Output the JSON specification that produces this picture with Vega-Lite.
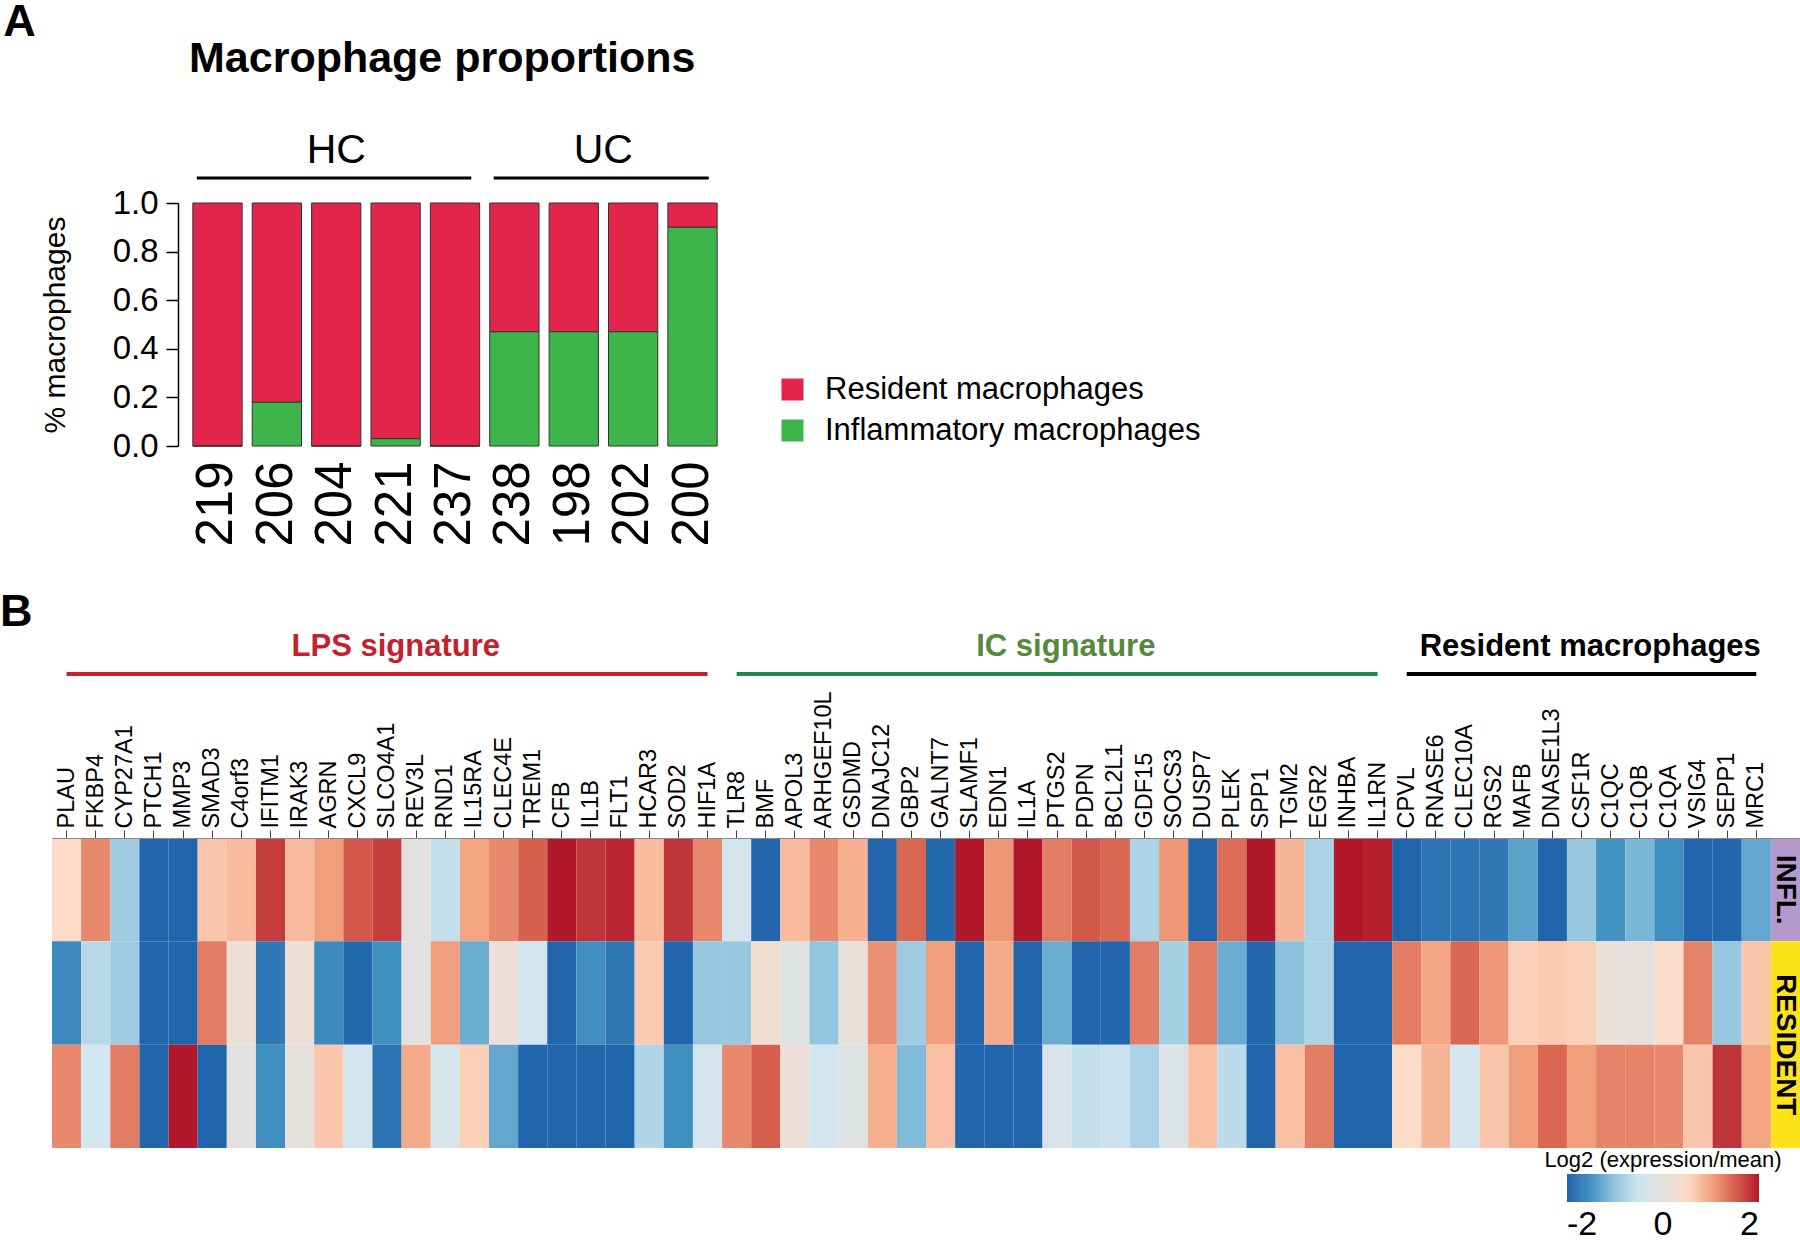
{
  "$schema": "https://vega.github.io/schema/vega-lite/v6.json",
  "padding": 0,
  "background": "white",
  "spacing": 43,
  "config": {
    "font": "Liberation Sans",
    "view": {"stroke": null},
    "axis": {"labelColor": "#000", "titleColor": "#000"},
    "legend": {"labelColor": "#000", "titleColor": "#000"},
    "title": {"color": "#000"}
  },
  "resolve": {"scale": {"x": "independent", "y": "independent", "color": "independent"}},
  "vconcat": [
    {
      "title": {"text": "A", "anchor": "start", "frame": "bounds", "fontSize": 45, "fontWeight": "bold", "dx": -37, "offset": -7},
      "bounds": "flush",
      "spacing": 0,
      "resolve": {"scale": {"x": "independent", "y": "independent", "color": "independent"}},
      "hconcat": [
        {
          "width": 126,
          "height": 1,
          "data": {"values": []},
          "mark": {"type": "point", "opacity": 0},
          "encoding": {}
        },
        {
          "bounds": "flush",
          "spacing": 25,
          "resolve": {"scale": {"x": "shared", "y": "independent", "color": "independent"}},
          "vconcat": [
            {
              "width": 554,
              "height": 15,
              "title": {"text": "Macrophage proportions", "anchor": "start", "frame": "group", "dx": 11, "fontSize": 43, "fontWeight": "bold", "offset": 49},
              "data": {"values": [
                {"grp": "HC", "first": "219", "last": "237", "mid": "204"},
                {"grp": "UC", "first": "238", "last": "200", "mid": "198"}
              ]},
              "layer": [
                {
                  "mark": {"type": "rule", "strokeWidth": 3, "color": "#000"},
                  "encoding": {
                    "x": {"field": "first", "type": "nominal", "bandPosition": 0.08, "scale": {"type": "band", "domain": ["219","206","204","221","237","238","198","202","200"], "paddingInner": 0.17, "paddingOuter": 0.25}, "axis": null},
                    "x2": {"field": "last", "bandPosition": 0.83},
                    "y": {"datum": 0, "type": "quantitative", "scale": {"domain": [0, 1]}, "axis": null}
                  }
                },
                {
                  "transform": [{"filter": "datum.grp === 'HC'"}],
                  "mark": {"type": "text", "fontSize": 41, "baseline": "alphabetic", "align": "center"},
                  "encoding": {
                    "x": {"field": "mid", "type": "nominal", "axis": null},
                    "y": {"datum": 1, "type": "quantitative"},
                    "text": {"field": "grp"}
                  }
                },
                {
                  "transform": [{"filter": "datum.grp === 'UC'"}],
                  "mark": {"type": "text", "fontSize": 41, "baseline": "alphabetic", "align": "center"},
                  "encoding": {
                    "x": {"field": "mid", "type": "nominal", "bandPosition": 1.1, "axis": null},
                    "y": {"datum": 1, "type": "quantitative"},
                    "text": {"field": "grp"}
                  }
                }
              ]
            },
            {
              "width": 554,
              "height": 243,
              "data": {"values": [
                {"sample": "219", "Resident macrophages": 1.0, "Inflammatory macrophages": 0.0},
                {"sample": "206", "Resident macrophages": 0.82, "Inflammatory macrophages": 0.18},
                {"sample": "204", "Resident macrophages": 1.0, "Inflammatory macrophages": 0.0},
                {"sample": "221", "Resident macrophages": 0.97, "Inflammatory macrophages": 0.03},
                {"sample": "237", "Resident macrophages": 1.0, "Inflammatory macrophages": 0.0},
                {"sample": "238", "Resident macrophages": 0.53, "Inflammatory macrophages": 0.47},
                {"sample": "198", "Resident macrophages": 0.53, "Inflammatory macrophages": 0.47},
                {"sample": "202", "Resident macrophages": 0.53, "Inflammatory macrophages": 0.47},
                {"sample": "200", "Resident macrophages": 0.10, "Inflammatory macrophages": 0.90}
              ]},
              "transform": [{"fold": ["Resident macrophages", "Inflammatory macrophages"], "as": ["type", "value"]}],
              "mark": {"type": "bar", "stroke": "#333", "strokeWidth": 1},
              "encoding": {
                "x": {"field": "sample", "type": "nominal",
                  "scale": {"type": "band", "domain": ["219","206","204","221","237","238","198","202","200"], "paddingInner": 0.17, "paddingOuter": 0.25},
                  "axis": {"title": null, "labelAngle": -90, "labelFontSize": 51, "ticks": false, "tickSize": 0, "domain": false, "labelPadding": 15}},
                "y": {"field": "value", "type": "quantitative", "stack": "zero",
                  "scale": {"domain": [0, 1], "nice": false},
                  "axis": {"title": "% macrophages", "values": [0, 0.2, 0.4, 0.6, 0.8, 1], "format": ".1f", "labelFontSize": 33, "titleFontSize": 30, "titleFontWeight": "normal", "tickSize": 12, "tickWidth": 1.5, "tickColor": "#000", "domainWidth": 1.5, "domainColor": "#000", "labelPadding": 8, "titlePadding": 42, "grid": false}},
                "color": {"field": "type", "type": "nominal",
                  "scale": {"domain": ["Resident macrophages", "Inflammatory macrophages"], "range": ["#E4254B", "#3DB54A"]},
                  "legend": {"title": null, "orient": "none", "legendX": 599, "legendY": 171, "symbolType": "square", "symbolSize": 484, "symbolStrokeWidth": 0, "labelFontSize": 31, "labelLimit": 600, "rowPadding": 9, "labelOffset": 17, "padding": 0}},
                "order": {"field": "type", "sort": "ascending"}
              }
            }
          ]
        }
      ]
    },
    {
      "title": {"text": "B", "anchor": "start", "frame": "bounds", "fontSize": 45, "fontWeight": "bold", "dx": -52, "offset": -4},
      "bounds": "flush",
      "spacing": 164,
      "resolve": {"scale": {"x": "shared", "y": "independent", "color": "independent"}},
      "vconcat": [
        {
          "width": 1748,
          "height": 18,
          "data": {"values": [
            {"sig": "LPS signature", "first": "PLAU", "last": "HIF1A", "mid": "SLCO4A1"},
            {"sig": "IC signature", "first": "TLR8", "last": "IL1RN", "mid": "PTGS2"},
            {"sig": "Resident macrophages", "first": "CPVL", "last": "MRC1", "mid": "CSF1R"}
          ]},
          "resolve": {"scale": {"color": "independent"}},
          "layer": [
            {
              "mark": {"type": "rule", "strokeWidth": 4},
              "encoding": {
                "x": {"field": "first", "type": "nominal", "axis": null,
                  "scale": {"type": "band", "paddingInner": 0, "paddingOuter": 0, "domain": ["PLAU","FKBP4","CYP27A1","PTCH1","MMP3","SMAD3","C4orf3","IFITM1","IRAK3","AGRN","CXCL9","SLCO4A1","REV3L","RND1","IL15RA","CLEC4E","TREM1","CFB","IL1B","FLT1","HCAR3","SOD2","HIF1A","TLR8","BMF","APOL3","ARHGEF10L","GSDMD","DNAJC12","GBP2","GALNT7","SLAMF1","EDN1","IL1A","PTGS2","PDPN","BCL2L1","GDF15","SOCS3","DUSP7","PLEK","SPP1","TGM2","EGR2","INHBA","IL1RN","CPVL","RNASE6","CLEC10A","RGS2","MAFB","DNASE1L3","CSF1R","C1QC","C1QB","C1QA","VSIG4","SEPP1","MRC1","annotation"]}},
                "x2": {"field": "last"},
                "y": {"datum": 0, "type": "quantitative", "scale": {"domain": [0, 1]}, "axis": null},
                "color": {"field": "sig", "type": "nominal", "legend": null,
                  "scale": {"domain": ["LPS signature", "IC signature", "Resident macrophages"], "range": ["#C8202F", "#1B8A46", "#000000"]}}
              }
            },
            {
              "mark": {"type": "text", "fontSize": 31, "fontWeight": "bold", "baseline": "alphabetic", "align": "center"},
              "encoding": {
                "x": {"field": "mid", "type": "nominal", "bandPosition": 0.8, "axis": null},
                "y": {"datum": 1, "type": "quantitative"},
                "text": {"field": "sig"},
                "color": {"field": "sig", "type": "nominal", "legend": null,
                  "scale": {"domain": ["LPS signature", "IC signature", "Resident macrophages"], "range": ["#C4212F", "#558A3A", "#000000"]}}
              }
            }
          ]
        },
        {
          "width": 1748,
          "height": 310,
          "layer": [
            {
              "data": {"values": [
                {"gene": "PLAU", "INFL": 0.5, "RESIDENT 1": -1.6, "RESIDENT 2": 1.2},
                {"gene": "FKBP4", "INFL": 1.2, "RESIDENT 1": -0.7, "RESIDENT 2": -0.45},
                {"gene": "CYP27A1", "INFL": -0.9, "RESIDENT 1": -0.9, "RESIDENT 2": 1.3},
                {"gene": "PTCH1", "INFL": -2, "RESIDENT 1": -2, "RESIDENT 2": -2},
                {"gene": "MMP3", "INFL": -2, "RESIDENT 1": -2, "RESIDENT 2": 2},
                {"gene": "SMAD3", "INFL": 0.7, "RESIDENT 1": 1.3, "RESIDENT 2": -2},
                {"gene": "C4orf3", "INFL": 0.8, "RESIDENT 1": 0.2, "RESIDENT 2": 0},
                {"gene": "IFITM1", "INFL": 1.75, "RESIDENT 1": -1.8, "RESIDENT 2": -1.55},
                {"gene": "IRAK3", "INFL": 0.8, "RESIDENT 1": 0.15, "RESIDENT 2": 0.05},
                {"gene": "AGRN", "INFL": 1.05, "RESIDENT 1": -1.6, "RESIDENT 2": 0.7},
                {"gene": "CXCL9", "INFL": 1.55, "RESIDENT 1": -1.95, "RESIDENT 2": -0.45},
                {"gene": "SLCO4A1", "INFL": 1.75, "RESIDENT 1": -1.55, "RESIDENT 2": -1.85},
                {"gene": "REV3L", "INFL": 0, "RESIDENT 1": -0.05, "RESIDENT 2": 0.95},
                {"gene": "RND1", "INFL": -0.6, "RESIDENT 1": 1.05, "RESIDENT 2": -0.35},
                {"gene": "IL15RA", "INFL": 1.0, "RESIDENT 1": -1.25, "RESIDENT 2": 0.6},
                {"gene": "CLEC4E", "INFL": 1.2, "RESIDENT 1": 0.15, "RESIDENT 2": -1.3},
                {"gene": "TREM1", "INFL": 1.5, "RESIDENT 1": -0.5, "RESIDENT 2": -2},
                {"gene": "CFB", "INFL": 2, "RESIDENT 1": -2, "RESIDENT 2": -2},
                {"gene": "IL1B", "INFL": 1.8, "RESIDENT 1": -1.55, "RESIDENT 2": -2},
                {"gene": "FLT1", "INFL": 1.9, "RESIDENT 1": -1.8, "RESIDENT 2": -2},
                {"gene": "HCAR3", "INFL": 0.8, "RESIDENT 1": 0.65, "RESIDENT 2": -0.75},
                {"gene": "SOD2", "INFL": 1.8, "RESIDENT 1": -2, "RESIDENT 2": -1.55},
                {"gene": "HIF1A", "INFL": 1.2, "RESIDENT 1": -0.95, "RESIDENT 2": -0.4},
                {"gene": "TLR8", "INFL": -0.35, "RESIDENT 1": -0.95, "RESIDENT 2": 1.2},
                {"gene": "BMF", "INFL": -2, "RESIDENT 1": 0.3, "RESIDENT 2": 1.5},
                {"gene": "APOL3", "INFL": 0.8, "RESIDENT 1": -0.1, "RESIDENT 2": 0.15},
                {"gene": "ARHGEF10L", "INFL": 1.2, "RESIDENT 1": -1.0, "RESIDENT 2": -0.45},
                {"gene": "GSDMD", "INFL": 0.9, "RESIDENT 1": 0.1, "RESIDENT 2": -0.1},
                {"gene": "DNAJC12", "INFL": -2, "RESIDENT 1": 1.15, "RESIDENT 2": 0.9},
                {"gene": "GBP2", "INFL": 1.45, "RESIDENT 1": -0.9, "RESIDENT 2": -1.1},
                {"gene": "GALNT7", "INFL": -1.95, "RESIDENT 1": 1.05, "RESIDENT 2": 0.75},
                {"gene": "SLAMF1", "INFL": 2, "RESIDENT 1": -2, "RESIDENT 2": -2},
                {"gene": "EDN1", "INFL": 1.1, "RESIDENT 1": 0.95, "RESIDENT 2": -2},
                {"gene": "IL1A", "INFL": 2, "RESIDENT 1": -2, "RESIDENT 2": -2},
                {"gene": "PTGS2", "INFL": 1.3, "RESIDENT 1": -1.25, "RESIDENT 2": -0.3},
                {"gene": "PDPN", "INFL": 1.55, "RESIDENT 1": -2, "RESIDENT 2": -0.6},
                {"gene": "BCL2L1", "INFL": 1.45, "RESIDENT 1": -2, "RESIDENT 2": -0.55},
                {"gene": "GDF15", "INFL": -0.8, "RESIDENT 1": 1.3, "RESIDENT 2": -0.8},
                {"gene": "SOCS3", "INFL": 1.1, "RESIDENT 1": -0.85, "RESIDENT 2": -0.2},
                {"gene": "DUSP7", "INFL": -2, "RESIDENT 1": 1.3, "RESIDENT 2": 0.75},
                {"gene": "PLEK", "INFL": 1.4, "RESIDENT 1": -1.25, "RESIDENT 2": -0.65},
                {"gene": "SPP1", "INFL": 2, "RESIDENT 1": -2, "RESIDENT 2": -2},
                {"gene": "TGM2", "INFL": 0.85, "RESIDENT 1": -1.05, "RESIDENT 2": 0.75},
                {"gene": "EGR2", "INFL": -0.8, "RESIDENT 1": -0.8, "RESIDENT 2": 1.3},
                {"gene": "INHBA", "INFL": 2, "RESIDENT 1": -2, "RESIDENT 2": -2},
                {"gene": "IL1RN", "INFL": 1.95, "RESIDENT 1": -2, "RESIDENT 2": -2},
                {"gene": "CPVL", "INFL": -2, "RESIDENT 1": 1.3, "RESIDENT 2": 0.45},
                {"gene": "RNASE6", "INFL": -1.85, "RESIDENT 1": 1.0, "RESIDENT 2": 0.85},
                {"gene": "CLEC10A", "INFL": -1.85, "RESIDENT 1": 1.45, "RESIDENT 2": -0.45},
                {"gene": "RGS2", "INFL": -1.8, "RESIDENT 1": 1.1, "RESIDENT 2": 0.7},
                {"gene": "MAFB", "INFL": -1.35, "RESIDENT 1": 0.6, "RESIDENT 2": 1.05},
                {"gene": "DNASE1L3", "INFL": -2, "RESIDENT 1": 0.65, "RESIDENT 2": 1.45},
                {"gene": "CSF1R", "INFL": -0.95, "RESIDENT 1": 0.6, "RESIDENT 2": 1.05},
                {"gene": "C1QC", "INFL": -1.5, "RESIDENT 1": 0.1, "RESIDENT 2": 1.25},
                {"gene": "C1QB", "INFL": -1.15, "RESIDENT 1": 0.05, "RESIDENT 2": 1.25},
                {"gene": "C1QA", "INFL": -1.55, "RESIDENT 1": 0.4, "RESIDENT 2": 1.2},
                {"gene": "VSIG4", "INFL": -2, "RESIDENT 1": 1.25, "RESIDENT 2": 0.7},
                {"gene": "SEPP1", "INFL": -2, "RESIDENT 1": -0.95, "RESIDENT 2": 1.8},
                {"gene": "MRC1", "INFL": -1.3, "RESIDENT 1": 0.7, "RESIDENT 2": 1.0}
              ]},
              "transform": [{"fold": ["INFL", "RESIDENT 1", "RESIDENT 2"], "as": ["row", "value"]}],
              "mark": {"type": "rect"},
              "encoding": {
                "x": {"field": "gene", "type": "nominal",
                  "scale": {"type": "band", "paddingInner": 0, "paddingOuter": 0, "domain": ["PLAU","FKBP4","CYP27A1","PTCH1","MMP3","SMAD3","C4orf3","IFITM1","IRAK3","AGRN","CXCL9","SLCO4A1","REV3L","RND1","IL15RA","CLEC4E","TREM1","CFB","IL1B","FLT1","HCAR3","SOD2","HIF1A","TLR8","BMF","APOL3","ARHGEF10L","GSDMD","DNAJC12","GBP2","GALNT7","SLAMF1","EDN1","IL1A","PTGS2","PDPN","BCL2L1","GDF15","SOCS3","DUSP7","PLEK","SPP1","TGM2","EGR2","INHBA","IL1RN","CPVL","RNASE6","CLEC10A","RGS2","MAFB","DNASE1L3","CSF1R","C1QC","C1QB","C1QA","VSIG4","SEPP1","MRC1","annotation"]},
                  "axis": {"orient": "top", "title": null, "values": ["PLAU","FKBP4","CYP27A1","PTCH1","MMP3","SMAD3","C4orf3","IFITM1","IRAK3","AGRN","CXCL9","SLCO4A1","REV3L","RND1","IL15RA","CLEC4E","TREM1","CFB","IL1B","FLT1","HCAR3","SOD2","HIF1A","TLR8","BMF","APOL3","ARHGEF10L","GSDMD","DNAJC12","GBP2","GALNT7","SLAMF1","EDN1","IL1A","PTGS2","PDPN","BCL2L1","GDF15","SOCS3","DUSP7","PLEK","SPP1","TGM2","EGR2","INHBA","IL1RN","CPVL","RNASE6","CLEC10A","RGS2","MAFB","DNASE1L3","CSF1R","C1QC","C1QB","C1QA","VSIG4","SEPP1","MRC1"],
                    "labelAngle": -90, "labelFontSize": 23.5, "labelPadding": 2, "tickSize": 8, "tickColor": "#444", "domainColor": "#888", "labelOverlap": false, "labelBound": false, "labelLimit": 300}},
                "y": {"field": "row", "type": "nominal", "scale": {"domain": ["INFL", "RESIDENT 1", "RESIDENT 2"], "paddingInner": 0, "paddingOuter": 0}, "axis": null},
                "color": {"field": "value", "type": "quantitative",
                  "scale": {"domain": [-2, -1.5, -1, -0.5, 0, 0.5, 1, 1.5, 2], "range": ["#2166ac", "#4393c3", "#92c5de", "#d1e5f0", "#e3e1df", "#fddbc7", "#f4a582", "#d6604d", "#b2182b"], "interpolate": "rgb"},
                  "legend": {"title": "Log2 (expression/mean)", "orient": "none", "legendX": 1492, "legendY": 312, "direction": "horizontal", "gradientLength": 192, "gradientThickness": 28, "titleFontSize": 22, "titleFontWeight": "normal", "titleAnchor": "middle", "titleLimit": 400, "titlePadding": 2, "labelFontSize": 34, "values": [-2, 0, 2], "labelExpr": "datum.value", "labelAlign": "center", "labelOffset": 6, "padding": 0, "labelOverlap": false}}
              }
            },
            {
              "data": {"values": [
                {"col": "annotation", "row": "INFL", "cls": "INFL."},
                {"col": "annotation", "row": "RESIDENT 1", "cls": "RESIDENT"},
                {"col": "annotation", "row": "RESIDENT 2", "cls": "RESIDENT"}
              ]},
              "layer": [
                {
                  "mark": {"type": "rect", "stroke": null},
                  "encoding": {
                    "x": {"field": "col", "type": "nominal"},
                    "y": {"field": "row", "type": "nominal"},
                    "fill": {"condition": {"test": "datum.cls === 'INFL.'", "value": "#B49ACB"}, "value": "#FFE31A"}
                  }
                },
                {
                  "transform": [{"filter": "datum.row === 'INFL'"}],
                  "mark": {"type": "text", "angle": 90, "fontSize": 28, "fontWeight": "bold", "align": "center", "baseline": "middle", "color": "#000"},
                  "encoding": {
                    "x": {"field": "col", "type": "nominal"},
                    "y": {"field": "row", "type": "nominal"},
                    "text": {"field": "cls"}
                  }
                },
                {
                  "transform": [{"filter": "datum.row === 'RESIDENT 1'"}],
                  "mark": {"type": "text", "angle": 90, "fontSize": 28, "fontWeight": "bold", "align": "center", "baseline": "middle", "color": "#000"},
                  "encoding": {
                    "x": {"field": "col", "type": "nominal"},
                    "y": {"field": "row", "type": "nominal", "bandPosition": 1},
                    "text": {"field": "cls"}
                  }
                }
              ]
            }
          ]
        }
      ]
    }
  ]
}
